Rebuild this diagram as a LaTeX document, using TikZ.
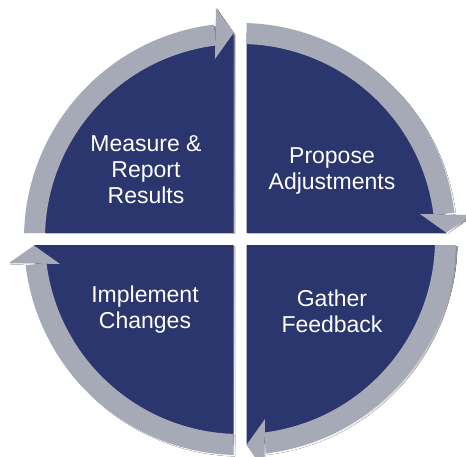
\documentclass[tikz,border=0pt]{standalone}
\usepackage{fontspec}
\setsansfont{Liberation Sans}
\definecolor{navy}{RGB}{43,53,110}
\definecolor{ringgray}{RGB}{166,169,182}
\definecolor{shade}{RGB}{205,206,212}

% one quarter: clipped disc, ring band and arrow head
\newcommand{\quartershape}[2]{%
  \clip (6.5,6.5) rectangle (260,260);
  \fill[#1] (0,0) circle (206);
  \fill[#2] (7:195) arc[start angle=7, end angle=95, radius=195]
    -- (95:216) arc[start angle=95, end angle=7, radius=216] -- cycle;
  \fill[#2] (180,25) -- (231,24) -- (206,6.5) -- cycle;
}

\begin{document}
\begin{tikzpicture}[
  x=1pt, y=1pt,
  every node/.style={align=center},
  stage/.style={text=white, font=\sffamily\fontsize{23}{26}\selectfont},
]
\useasboundingbox (0,0) rectangle (466,-457);

% soft shadow, then the four quarters, each turned a quarter clockwise
\foreach \r in {0,-90,-180,-270} {
  \begin{scope}[shift={(241.5,-240.5)}, rotate=\r]
    \quartershape{shade}{shade}
  \end{scope}
}
\foreach \r in {0,-90,-180,-270} {
  \begin{scope}[shift={(240,-239)}, rotate=\r]
    \quartershape{navy}{ringgray}
  \end{scope}
}

% stage texts
\node[stage] (measure) at (146,-170) {Measure \&\\ Report\\ Results};
\node[stage] (propose) at (332,-171) {Propose\\ Adjustments};
\node[stage] (implement) at (145,-310) {Implement\\ Changes};
\node[stage] (gather) at (332,-311) {Gather\\ Feedback};

\end{tikzpicture}
\end{document}
